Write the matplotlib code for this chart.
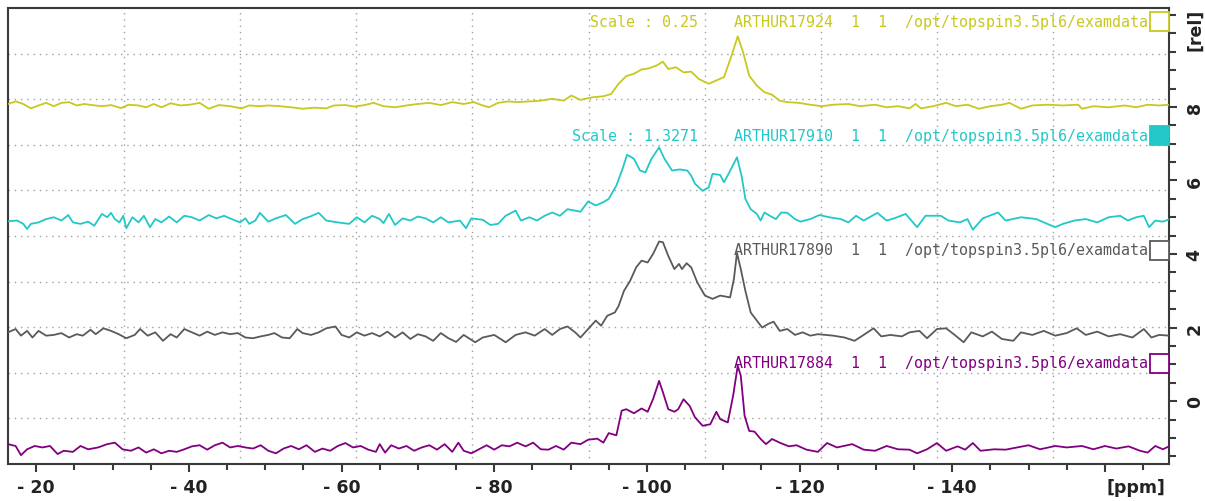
import matplotlib
matplotlib.use("Agg")
import matplotlib.pyplot as plt
from matplotlib.ticker import FixedLocator, MultipleLocator, FuncFormatter
from matplotlib.patches import Rectangle

# ---- data (ppm, relative intensity) ----
a17924_ppm = [-16.3, -17.3, -18.3, -19.3, -20.3, -21.3, -22.3, -23.3, -24.3, -25.3, -26.3, -27.3,
              -28.6, -29.8, -31.1, -32.1, -33.4, -34.4, -35.4, -36.4, -37.6, -38.9, -40.1, -41.4,
              -42.6, -43.9, -45.4, -46.9, -47.9, -49.2, -50.4, -51.9, -53.4, -54.9, -56.4, -58.0,
              -59.0, -60.5, -61.7, -63.0, -64.2, -65.5, -67.0, -68.5, -70.0, -71.5, -73.0, -74.5,
              -76.0, -77.3, -78.5, -79.3, -80.5, -81.8, -83.1, -84.6, -86.1, -87.6, -89.1, -90.1,
              -91.3, -92.8, -94.3, -95.3, -96.3, -97.3, -98.3, -99.3, -100.3, -101.3, -102.1, -102.8,
              -103.8, -104.8, -105.8, -106.8, -108.1, -109.1, -110.1, -111.1, -111.9, -112.6, -113.4,
              -114.4, -115.4, -116.4, -117.4, -118.4, -119.9, -121.4, -122.9, -124.4, -126.4, -127.9,
              -129.9, -131.4, -132.9, -134.4, -135.2, -135.9, -137.5, -139.2, -140.5, -142.0, -143.5,
              -145.0, -146.5, -147.5, -149.0, -150.5, -152.5, -154.5, -156.5, -157.0, -158.5, -160.5,
              -162.6, -164.1, -165.6, -167.1, -168.5]
a17924_rel = [8.08, 8.15, 8.08, 7.96, 8.04, 8.11, 8.02, 8.11, 8.13, 8.04, 8.08, 8.05,
              8.02, 8.05, 7.97, 8.06, 8.04, 7.99, 8.08, 7.99, 8.10, 8.04, 8.06, 8.11,
              7.95, 8.05, 8.02, 7.96, 8.04, 8.02, 8.04, 8.02, 7.99, 7.95, 7.98, 7.96,
              8.04, 8.05, 8.01, 8.05, 8.11, 8.02, 7.99, 8.04, 8.08, 8.11, 8.05, 8.13,
              8.08, 8.13, 8.04, 7.99, 8.11, 8.15, 8.13, 8.15, 8.17, 8.22, 8.17, 8.31,
              8.19, 8.26, 8.29, 8.35, 8.63, 8.84, 8.90, 9.02, 9.05, 9.13, 9.23, 9.03,
              9.08, 8.94, 8.96, 8.76, 8.63, 8.72, 8.81, 9.40, 9.92, 9.49, 8.85,
              8.58, 8.40, 8.33, 8.17, 8.13, 8.11, 8.06, 8.02, 8.06, 8.08, 8.02,
              8.06, 7.99, 8.02, 7.96, 8.08, 7.96, 8.02, 8.11, 8.02, 8.06, 7.95,
              8.02, 8.06, 8.11, 7.95, 8.04, 8.06, 8.04, 8.06, 7.95, 8.02, 7.99,
              8.04, 7.99, 8.06, 8.04, 8.06]

a17910_ppm = [-16.3, -17.5, -18.3, -18.8, -19.3, -20.3, -21.3, -22.3, -23.3, -24.2, -24.8, -25.8,
              -26.8, -27.6, -28.6, -29.3, -29.8, -30.3, -30.9, -31.4, -31.8, -32.6, -33.4, -34.1,
              -34.9, -35.6, -36.4, -37.4, -38.4, -39.4, -40.4, -41.4, -42.6, -43.6, -44.6, -45.6,
              -46.7, -47.4, -47.9, -48.7, -49.3, -50.4, -51.4, -52.7, -53.9, -54.9, -55.9, -57.0,
              -58.0, -59.5, -61.0, -62.0, -63.0, -64.0, -65.0, -65.5, -66.2, -67.0, -68.0, -69.0,
              -70.0, -71.0, -72.0, -73.0, -74.0, -75.5, -76.3, -77.0, -78.5, -79.5, -80.5, -81.5,
              -82.8, -83.5, -84.6, -85.6, -86.6, -87.6, -88.6, -89.6, -90.6,
              -91.3, -92.3, -93.3, -94.3, -95.0, -96.0, -96.8, -97.4, -98.3, -99.1, -99.8, -100.6,
              -101.6, -102.3, -103.3, -104.3, -105.3, -105.8, -106.3, -107.3, -108.1, -108.6, -109.6,
              -110.1, -110.8, -111.8, -112.4, -112.9, -113.6, -114.4, -114.9, -115.4, -116.1, -116.9,
              -117.6, -118.4, -119.4, -120.1, -121.4, -122.6, -123.9, -125.4, -126.4, -127.4, -128.4,
              -130.2, -131.4, -132.4, -133.9, -135.4, -136.5, -138.5, -139.5, -141.0, -142.0, -142.7,
              -144.0, -146.0, -147.0, -149.0, -151.0, -152.0, -153.5, -154.5, -156.0, -157.5, -159.0,
              -160.5, -162.0, -163.0, -164.1, -165.1, -165.8, -166.6, -167.6, -168.5]
a17910_rel = [4.89, 4.91, 4.82, 4.68, 4.82, 4.86, 4.95, 5.00, 4.91, 5.06, 4.86, 4.82,
              4.88, 4.77, 5.09, 5.00, 5.12, 4.95, 4.86, 5.04, 4.70, 5.00, 4.86, 5.04,
              4.73, 4.95, 4.86, 5.02, 4.86, 5.04, 5.00, 4.91, 5.06, 4.97, 5.04, 4.95,
              4.86, 4.97, 4.82, 4.91, 5.12, 4.88, 4.97, 5.06, 4.82, 4.95, 5.02, 5.12,
              4.91, 4.86, 4.82, 5.00, 4.86, 5.04, 4.95, 4.84, 5.09, 4.79, 4.97, 4.91,
              5.02, 4.97, 4.86, 5.00, 4.86, 4.91, 4.70, 4.97, 4.93, 4.79, 4.82, 5.04,
              5.18, 4.91, 5.00, 4.91, 5.04, 5.13, 5.04, 5.22, 5.18,
              5.15, 5.43, 5.32, 5.41, 5.50, 5.86, 6.31, 6.70, 6.59, 6.27, 6.22, 6.59,
              6.90, 6.59, 6.27, 6.30, 6.27, 6.13, 5.91, 5.72, 5.81, 6.18, 6.15,
              5.95, 6.22, 6.63, 6.13, 5.50, 5.22, 5.09, 4.91, 5.13, 5.04, 4.95,
              5.13, 5.12, 4.95, 4.88, 4.95, 5.06, 5.00, 4.95, 4.86, 5.04, 4.91,
              5.12, 4.91, 4.97, 5.09, 4.73, 5.04, 5.04, 4.91, 4.86, 4.95, 4.66,
              4.97, 5.13, 4.91, 5.00, 4.95, 4.86, 4.73, 4.82, 4.91, 4.95, 4.86,
              5.00, 5.04, 4.91, 5.00, 5.04, 4.73, 4.91, 4.88, 4.95]

a17890_ppm = [-16.3, -17.3, -18.0, -18.8, -19.5, -20.3, -21.3, -22.3, -23.3, -24.3, -25.3, -26.1,
              -27.1, -27.8, -28.8, -29.8, -30.8, -31.8, -32.9, -33.6, -34.6, -35.6, -36.6, -37.6,
              -38.4, -39.4, -40.4, -41.4, -42.4, -43.4, -44.4, -45.4, -46.4, -47.4, -48.4, -49.4,
              -50.4, -51.2, -52.2, -53.2, -54.2, -54.9, -56.0, -57.0, -58.0, -59.2, -60.0, -61.0,
              -62.0, -63.0, -64.0, -65.0, -66.0, -67.0, -68.0, -69.0, -70.0, -71.0, -72.0, -73.0,
              -74.0, -75.0, -76.0, -77.5, -78.5, -80.0, -81.5, -82.8, -84.1, -85.3, -86.6, -87.6,
              -88.6, -89.6, -90.6,
              -91.3, -92.3, -93.3, -94.0, -94.8, -95.8, -96.3, -97.0, -97.8, -98.6, -99.3, -100.1,
              -100.8, -101.6, -102.1, -102.8, -103.6, -104.2, -104.6, -105.2, -105.8, -106.6, -107.6,
              -108.6, -109.6, -110.9, -111.4, -111.8, -112.3, -112.9, -113.6, -114.4, -115.1, -115.9,
              -116.6, -117.4, -118.4, -119.4, -120.4, -121.4, -122.4, -123.4, -124.4, -125.9, -127.2,
              -128.4, -129.7, -130.7, -131.9, -133.4, -134.4, -135.7, -136.7, -138.0, -139.2, -140.2,
              -141.5, -142.5, -144.0, -145.2, -146.5, -148.0, -149.0, -150.5, -152.0, -153.5, -155.0,
              -156.3, -157.5, -159.0, -160.5, -162.0, -163.6, -165.1, -166.1, -167.1, -168.5]
a17890_rel = [1.87, 1.96, 1.78, 1.91, 1.73, 1.91, 1.78, 1.80, 1.85, 1.73, 1.82, 1.78,
              1.94, 1.82, 1.98, 1.91, 1.82, 1.71, 1.80, 1.96, 1.78, 1.87, 1.64, 1.82,
              1.73, 1.96, 1.87, 1.78, 1.89, 1.80, 1.87, 1.82, 1.85, 1.73, 1.71, 1.76,
              1.80, 1.85, 1.73, 1.71, 1.96, 1.85, 1.80, 1.87, 1.98, 2.03, 1.80, 1.73,
              1.87, 1.78, 1.85, 1.76, 1.89, 1.73, 1.87, 1.69, 1.82, 1.76, 1.64, 1.85,
              1.71, 1.61, 1.80, 1.60, 1.73, 1.80, 1.60, 1.80, 1.87, 1.78, 1.96, 1.80,
              1.96, 2.03, 1.87,
              1.73, 1.96, 2.19, 2.05, 2.32, 2.41, 2.59, 3.00, 3.27, 3.64, 3.82, 3.77,
              4.00, 4.34, 4.32, 3.95, 3.59, 3.73, 3.59, 3.75, 3.64, 3.23, 2.87,
              2.78, 2.87, 2.82, 3.32, 4.03, 3.59, 3.00, 2.41, 2.19, 2.00, 2.10,
              2.16, 1.91, 1.96, 1.80, 1.87, 1.78, 1.82, 1.80, 1.78, 1.73, 1.64,
              1.80, 1.98, 1.76, 1.80, 1.76, 1.87, 1.91, 1.71, 1.96, 1.98, 1.82,
              1.60, 1.87, 1.76, 1.89, 1.69, 1.64, 1.87, 1.80, 1.91, 1.78, 1.85,
              1.98, 1.80, 1.89, 1.76, 1.82, 1.73, 1.96, 1.73, 1.80, 1.78]

a17884_ppm = [-16.3, -17.3, -18.0, -18.8, -19.8, -20.8, -21.8, -22.8, -23.6, -24.8, -25.8, -26.8,
              -28.1, -29.3, -30.3, -31.3, -32.4, -33.4, -34.4, -35.4, -36.4, -37.4, -38.4, -39.4,
              -40.4, -41.4, -42.4, -43.4, -44.4, -45.4, -46.4, -47.4, -48.4, -49.4, -50.4, -51.4,
              -52.4, -53.4, -54.4, -55.4, -56.5, -57.5, -58.5, -59.5, -60.5, -61.5, -62.5, -63.5,
              -64.5, -65.0, -65.7, -66.5, -67.5, -68.5, -69.5, -70.5, -71.5, -72.5, -73.5, -74.5,
              -75.3, -76.0, -77.0, -78.0, -79.0, -80.0, -81.0, -82.0, -83.0, -84.1, -85.1, -86.1,
              -87.1, -88.1, -89.1, -90.1,
              -91.3, -92.3, -93.5, -94.3, -95.0, -96.0, -96.7, -97.3, -98.3, -99.3, -100.1, -100.8,
              -101.6, -102.1, -102.8, -103.6, -104.1, -104.8, -105.6, -106.3, -107.3, -108.3, -109.1,
              -109.6, -110.6, -111.3, -111.9, -112.3, -112.8, -113.4, -114.1, -114.9, -115.6, -116.4,
              -117.4, -118.6, -119.6, -120.9, -122.4, -123.6, -124.9, -126.9, -128.4, -129.9, -131.4,
              -132.9, -134.4, -135.4, -136.7, -138.0, -139.2, -140.7, -141.7, -142.7, -143.7, -145.5,
              -147.0, -148.5, -150.0, -151.5, -153.5, -155.0, -157.0, -158.5, -160.0, -161.5, -163.1,
              -164.6, -165.6, -166.6, -167.6, -168.5]
a17884_rel = [-1.17, -1.22, -1.47, -1.31, -1.22, -1.26, -1.22, -1.44, -1.35, -1.38, -1.22, -1.31,
              -1.26, -1.17, -1.13, -1.31, -1.35, -1.26, -1.40, -1.31, -1.42, -1.35, -1.38, -1.31,
              -1.23, -1.20, -1.32, -1.20, -1.13, -1.26, -1.22, -1.26, -1.29, -1.20, -1.35, -1.42,
              -1.29, -1.22, -1.31, -1.20, -1.38, -1.29, -1.35, -1.22, -1.14, -1.26, -1.22, -1.32,
              -1.38, -1.17, -1.40, -1.20, -1.29, -1.22, -1.35, -1.26, -1.20, -1.32, -1.17, -1.38,
              -1.13, -1.35, -1.42, -1.31, -1.20, -1.32, -1.20, -1.23, -1.13, -1.23, -1.13, -1.31,
              -1.32, -1.22, -1.32, -1.13,
              -1.17, -1.05, -1.02, -1.13, -0.87, -0.93, -0.26, -0.22, -0.33, -0.20, -0.29, 0.05,
              0.55, 0.24, -0.22, -0.29, -0.22, 0.05, -0.13, -0.44, -0.67, -0.63, -0.29,
              -0.49, -0.58, 0.15, 0.96, 0.69, -0.40, -0.81, -0.83, -1.03, -1.17, -1.03,
              -1.13, -1.23, -1.20, -1.32, -1.38, -1.14, -1.26, -1.17, -1.32, -1.35, -1.22,
              -1.31, -1.32, -1.42, -1.31, -1.14, -1.35, -1.23, -1.32, -1.14, -1.35, -1.31,
              -1.32, -1.26, -1.20, -1.31, -1.22, -1.26, -1.22, -1.31, -1.22, -1.29, -1.23,
              -1.35, -1.40, -1.22, -1.31, -1.22]

names = ["ARTHUR17924", "ARTHUR17910", "ARTHUR17890", "ARTHUR17884"]
scales = ["Scale : 0.25", "Scale : 1.3271", "", ""]
path = "/opt/topspin3.5pl6/examdata"
colors = ["#c8c81e", "#22c8c8", "#5a5a5a", "#800080"]
filled = [False, True, False, False]
label_y = [22, 136, 251, 364]   # pixel rows of the title lines

x_major = [-20, -40, -60, -80, -100, -120, -140, -160]
y_major = [0, 2, 4, 6, 8]

W, H = 1205, 502
L, R, T, B = 8, 1169, 9, 465

fig = plt.figure(figsize=(W / 100, H / 100), dpi=100)
ax = fig.add_axes([L / W, (H - B) / H, (R - L) / W, (B - T) / H])

traces = [(a17924_ppm, a17924_rel), (a17910_ppm, a17910_rel),
          (a17890_ppm, a17890_rel), (a17884_ppm, a17884_rel)]
for (x, y), c in zip(traces, colors):
    ax.plot(x, y, color=c, lw=1.3, zorder=3)

ax.set_xlim(-16.3, -168.4)
ax.set_ylim(-1.71, 10.69)

# topspin style grid: 10 equal divisions, independent of ticks
for i in range(1, 10):
    ax.plot([i / 10, i / 10], [0, 1], transform=ax.transAxes, color="#a0a0a0",
            lw=1.0, ls=(0, (1, 3.5)), zorder=1)
    ax.plot([0, 1], [i / 10, i / 10], transform=ax.transAxes, color="#a0a0a0",
            lw=1.0, ls=(0, (1, 3.5)), zorder=1)

for s in ax.spines.values():
    s.set_color("#3a3a3a")
    s.set_linewidth(1.5)

ax.xaxis.set_major_locator(FixedLocator(x_major))
ax.xaxis.set_minor_locator(MultipleLocator(5))
ax.xaxis.set_major_formatter(FuncFormatter(lambda v, p: "" if v <= -160 else "- %d" % abs(v)))
ax.yaxis.set_major_locator(FixedLocator(y_major))
ax.yaxis.set_minor_locator(MultipleLocator(0.5))
ax.yaxis.tick_right()

ax.tick_params(axis="x", which="major", length=6, width=1.5, color="#3a3a3a", pad=4,
               labelsize=12.5, labelcolor="#222222")
ax.tick_params(axis="x", which="minor", length=4.5, width=1.5, color="#3a3a3a")
ax.tick_params(axis="y", which="major", length=6, width=1.5, color="#3a3a3a", pad=6,
               labelsize=12.5, labelcolor="#222222", labelrotation=90)
ax.tick_params(axis="y", which="minor", length=5, width=1.5, color="#3a3a3a")
for t in ax.get_xticklabels() + ax.get_yticklabels():
    t.set_fontweight("bold")
for t in ax.get_yticklabels():
    t.set_va("center")

fig.text(1165 / W, 1 - 488 / H, "[ppm]", ha="right", va="center", fontsize=12.5,
         fontweight="bold", color="#222222")
fig.text(1195 / W, 1 - 30 / H, "[rel]", ha="center", va="center", fontsize=12.5,
         fontweight="bold", color="#222222", rotation=90)

for name, sc, c, f, yp in zip(names, scales, colors, filled, label_y):
    txt = name + "  1  1  " + path
    if sc:
        txt = sc + "    " + txt
    ay = (B - yp) / (B - T)
    ax.text((1148 - L) / (R - L), ay, txt, transform=ax.transAxes, ha="right", va="center",
            family="DejaVu Sans Mono", fontsize=10.8, color=c, zorder=4)
    ax.add_patch(Rectangle(((1150 - L) / (R - L), ay - 9.5 / (B - T)), 19 / (R - L), 19 / (B - T),
                           transform=ax.transAxes, facecolor=c if f else "white",
                           edgecolor=c, lw=1.3, clip_on=False, zorder=5))

fig.savefig("out.png", dpi=100)
